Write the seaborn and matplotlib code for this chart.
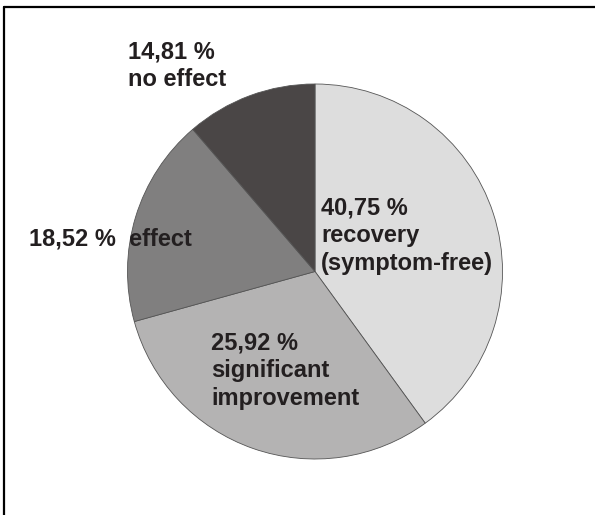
import matplotlib
matplotlib.use("Agg")
import matplotlib.pyplot as plt
from matplotlib.lines import Line2D
import seaborn as sns

# slices, clockwise from 12 o'clock
categories = ["recovery\n(symptom-free)", "significant\nimprovement", "effect", "no effect"]
share_labels = ["40,75 %", "25,92 %", "18,52 %", "14,81 %"]
# wedge sizes as drawn in the picture (measured angles, in %)
slice_sizes = [40.0, 30.7, 18.0, 11.3]
colors = ["#dddddd", "#b4b3b3", "#807f7f", "#4a4646"]

sns.set_theme(style="white")
plt.rcParams["font.family"] = ["Liberation Sans", "DejaVu Sans"]

fig = plt.figure(figsize=(5.95, 5.15), dpi=100)
ax = fig.add_axes([127.5 / 595, 56 / 515, 375 / 595, 375 / 515])

ax.pie(slice_sizes, colors=colors, startangle=90, counterclock=False,
       radius=1, wedgeprops=dict(edgecolor="#555555", linewidth=0.6))
ax.set_xlim(-1, 1)
ax.set_ylim(-1, 1)
ax.set_aspect("equal")
ax.axis("off")

txt = dict(fontsize=17, fontweight="bold", color="#231f20", ha="left",
           va="baseline", linespacing=1.27)

# label anchors (baseline of the last line, pie radius units)
ax.text(0.032, 0.008, share_labels[0] + "\n" + categories[0], **txt)
ax.text(-0.555, -0.712, share_labels[1] + "\n" + categories[1], **txt)
ax.text(-1.525, 0.141, share_labels[2] + "  " + categories[2], **txt)
ax.text(-0.997, 0.989, share_labels[3] + "\n" + categories[3], **txt)

# frame remnants at top and left
fig.add_artist(Line2D([4 / 595, 1], [1 - 7 / 515] * 2, color="black", linewidth=1.6,
                      transform=fig.transFigure))
fig.add_artist(Line2D([4 / 595] * 2, [0, 1 - 7 / 515], color="black", linewidth=1.6,
                      transform=fig.transFigure))

fig.savefig("out.png", dpi=100)
